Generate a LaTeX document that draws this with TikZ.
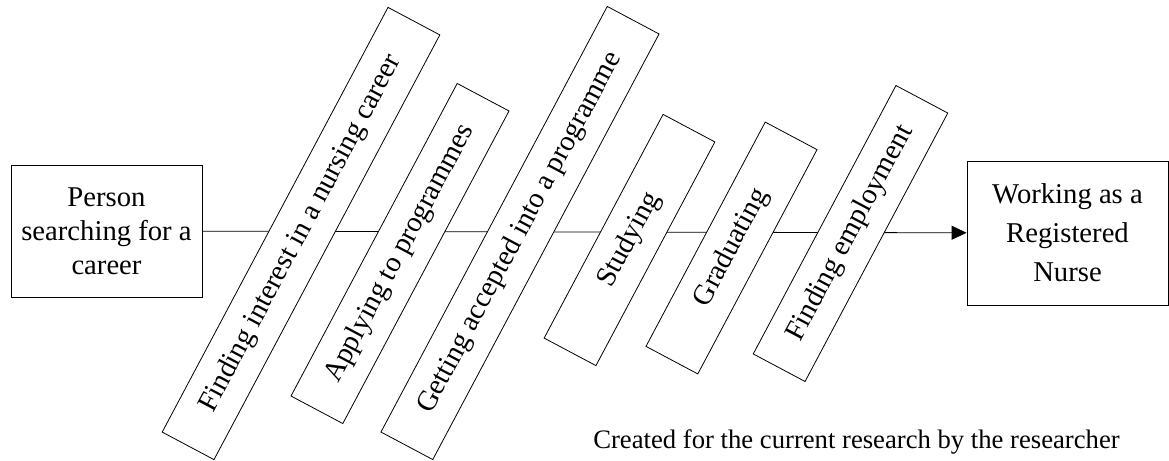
\documentclass[tikz,border=0pt]{standalone}
\usepackage{fontspec}
\setmainfont{Liberation Serif}
\usetikzlibrary{arrows.meta}

\begin{document}
\begin{tikzpicture}[x=0.75pt,y=-0.75pt,
  endbox/.style={draw,line width=0.6pt,align=center,inner sep=0pt,font=\fontsize{21.5}{25.6}\selectfont},
  stagebox/.style={draw,fill=white,line width=0.6pt,rotate=62,minimum height=44pt,inner sep=0pt,font=\fontsize{21.5}{25.6}\selectfont}]
\useasboundingbox (0,0) rectangle (1169,460);
\node[endbox,minimum width=143.25pt,minimum height=99pt] (person) at (106.5,231) {Person\\searching for a\\career};
\node[endbox,minimum width=150.75pt,minimum height=108pt,font=\fontsize{21.5}{29.3}\selectfont] (nurse) at (1067.5,233) {Working as a\\Registered\\Nurse};
\draw[line width=0.6pt,-{Triangle[length=11.25pt,width=10.5pt]}] (person) -- (nurse);
\node[stagebox,minimum width=360.75pt] (interest) at (301,233.5) {Finding interest in a nursing career};
\node[stagebox,minimum width=265.5pt] (applying) at (400,253.5) {Applying to programmes};
\node[stagebox,minimum width=361.5pt] (accepted) at (520,233) {Getting accepted into a programme};
\node[stagebox,minimum width=190pt] (studying) at (629.5,240) {Studying};
\node[stagebox,minimum width=190.5pt] (graduating) at (731.5,248) {Graduating};
\node[stagebox,minimum width=228pt] (employment) at (850.5,233.5) {Finding employment};
\node[anchor=base,font=\fontsize{20}{24}\selectfont] (credit) at (856.5,448) {Created for the current research by the researcher};
\end{tikzpicture}
\end{document}
